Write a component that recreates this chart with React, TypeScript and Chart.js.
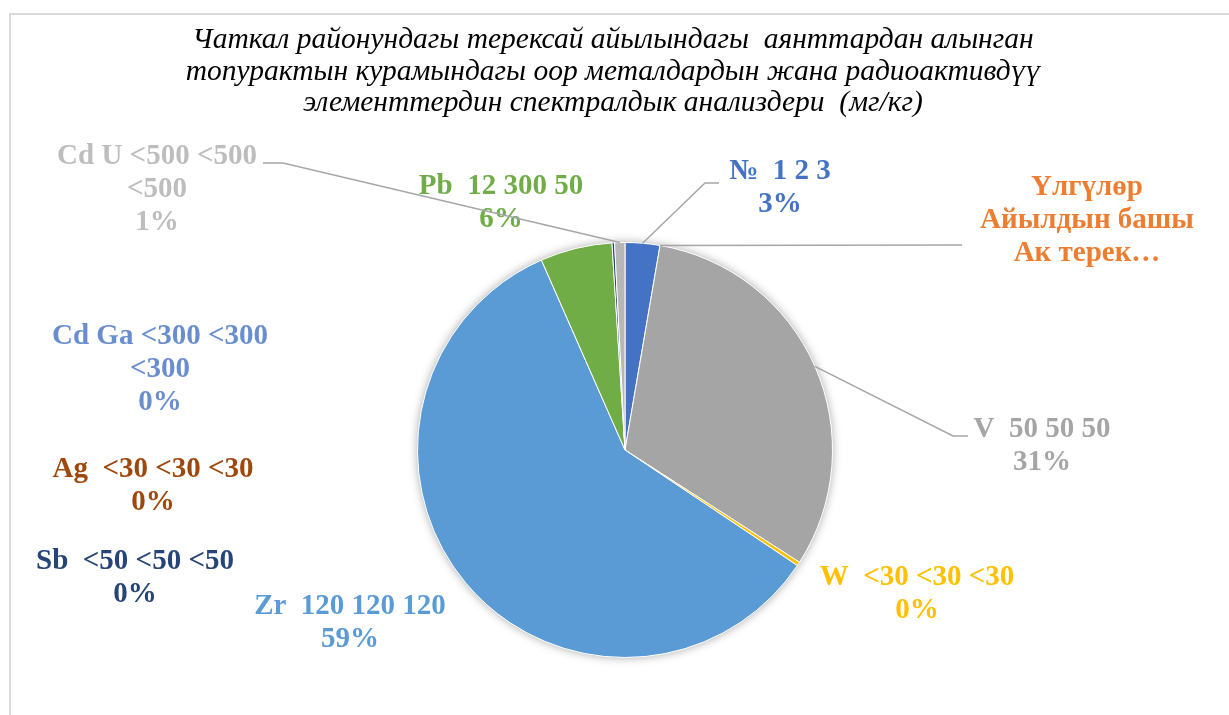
import React, { useEffect, useRef } from "react";
import { Chart, registerables } from "chart.js";
Chart.register(...registerables);

const titleLines = [
  "Чаткал районундагы терексай айылындагы  аянттардан алынган",
  "топурактын курамындагы оор металдардын жана радиоактивдүү",
  "элементтердин спектралдык анализдери  (мг/кг)",
];

const categories = [
  "№  1 2 3",
  "Үлгүлөр\nАйылдын башы\nАк терек…",
  "V  50 50 50",
  "W  <30 <30 <30",
  "Zr  120 120 120",
  "Pb  12 300 50",
  "Sb  <50 <50 <50",
  "Ag  <30 <30 <30",
  "Cd Ga <300 <300\n<300",
  "Cd U <500 <500\n<500",
];

const values = [2.7, 0, 31.4, 0.3, 59.0, 5.6, 0.2, 0, 0, 0.8];

const showPercent = [true, false, true, true, true, true, true, true, true, true];

const sliceColors = [
  "#4472C4", "#ED7D31", "#A5A5A5", "#FFC000", "#5B9BD5",
  "#70AD47", "#264478", "#9E480E", "#698ED0", "#B7B7B7",
];

const labelColors = [
  "#4472C4", "#ED7D31", "#A5A5A5", "#FFC000", "#5B9BD5",
  "#70AD47", "#264478", "#9E480E", "#698ED0", "#BDBDBD",
];

// label placement relative to pie centre (px): centre x of text, centre y of first line
const labelLayout = [
  { x: 155, y: -278 },
  { x: 462, y: -262 },
  { x: 417, y: -20 },
  { x: 292, y: 128 },
  { x: -275, y: 157 },
  { x: -124, y: -263 },
  { x: -490, y: 112 },
  { x: -472, y: 20 },
  { x: -465, y: -113 },
  { x: -468, y: -293 },
];

// leader line bend points relative to pie centre (px)
const leaderLayout: Record<number, number[][]> = {
  0: [[80, -267], [94, -267]],
  1: [[337, -205]],
  2: [[328, -14], [343, -14]],
  9: [[-342, -287], [-362, -287]],
};

const LABEL_FONT = "bold 29px 'Liberation Serif', 'Times New Roman', serif";
const TITLE_FONT = "italic 29.5px 'Liberation Serif', 'Times New Roman', serif";
const LINE_H = 33;

const decorPlugin = {
  id: "decor",
  beforeDraw(chart: any) {
    const ctx = chart.ctx;
    ctx.save();
    ctx.fillStyle = "#ffffff";
    ctx.fillRect(0, 0, chart.width, chart.height);
    ctx.strokeStyle = "#D9D9D9";
    ctx.lineWidth = 2;
    ctx.beginPath();
    ctx.moveTo(10, chart.height + 5);
    ctx.lineTo(10, 14);
    ctx.lineTo(chart.width + 5, 14);
    ctx.stroke();
    // title
    ctx.fillStyle = "#000000";
    ctx.font = TITLE_FONT;
    ctx.textAlign = "center";
    ctx.textBaseline = "middle";
    const ty = [40, 72, 103];
    titleLines.forEach((t, i) => ctx.fillText(t, 613, ty[i]));
    ctx.restore();
  },
  beforeDatasetsDraw(chart: any) {
    const meta = chart.getDatasetMeta(0);
    const arc = meta.data[0];
    if (!arc) return;
    const { x, y, outerRadius } = arc.getProps(["x", "y", "outerRadius"], true);
    const ctx = chart.ctx;
    ctx.save();
    ctx.shadowColor = "rgba(0,0,0,0.35)";
    ctx.shadowBlur = 10;
    ctx.fillStyle = "#ffffff";
    ctx.beginPath();
    ctx.arc(x, y, outerRadius, 0, Math.PI * 2);
    ctx.fill();
    ctx.restore();
  },
  afterDatasetsDraw(chart: any) {
    const meta = chart.getDatasetMeta(0);
    const ctx = chart.ctx;
    const total = values.reduce((a, b) => a + b, 0);
    ctx.save();
    meta.data.forEach((el: any, i: number) => {
      const p = el.getProps(["x", "y", "startAngle", "endAngle", "outerRadius"], true);
      const mid = (p.startAngle + p.endAngle) / 2;
      const ax = p.x + Math.cos(mid) * p.outerRadius;
      const ay = p.y + Math.sin(mid) * p.outerRadius;
      const pts = leaderLayout[i];
      if (pts) {
        ctx.strokeStyle = "#A6A6A6";
        ctx.lineWidth = 1.5;
        ctx.beginPath();
        ctx.moveTo(ax, ay);
        pts.forEach((q) => ctx.lineTo(p.x + q[0], p.y + q[1]));
        ctx.stroke();
      }
      const lines = categories[i].split("\n");
      if (showPercent[i]) lines.push(Math.round((values[i] / total) * 100) + "%");
      const L = labelLayout[i];
      ctx.font = LABEL_FONT;
      ctx.fillStyle = labelColors[i];
      ctx.textAlign = "center";
      ctx.textBaseline = "middle";
      lines.forEach((t, k) => ctx.fillText(t, p.x + L.x, p.y + L.y + k * LINE_H));
    });
    ctx.restore();
  },
};

export default function App() {
  const ref = useRef<HTMLCanvasElement>(null);
  useEffect(() => {
    if (!ref.current) return;
    const chart = new Chart(ref.current, {
      type: "pie",
      data: {
        labels: categories,
        datasets: [
          {
            data: values,
            backgroundColor: sliceColors,
            borderColor: "#ffffff",
            borderWidth: 1,
          },
        ],
      },
      options: {
        responsive: false,
        animation: false,
        layout: { padding: { left: 417, right: 396, top: 242, bottom: 57 } },
        plugins: {
          legend: { display: false },
          title: { display: false },
          tooltip: { enabled: false },
        },
      },
      plugins: [decorPlugin],
    });
    return () => chart.destroy();
  }, []);
  return (
    <div style={{ position: "fixed", left: 0, top: 0, width: 1229, height: 715 }}>
      <canvas ref={ref} width={1229} height={715} style={{ width: 1229, height: 715 }} />
    </div>
  );
}
